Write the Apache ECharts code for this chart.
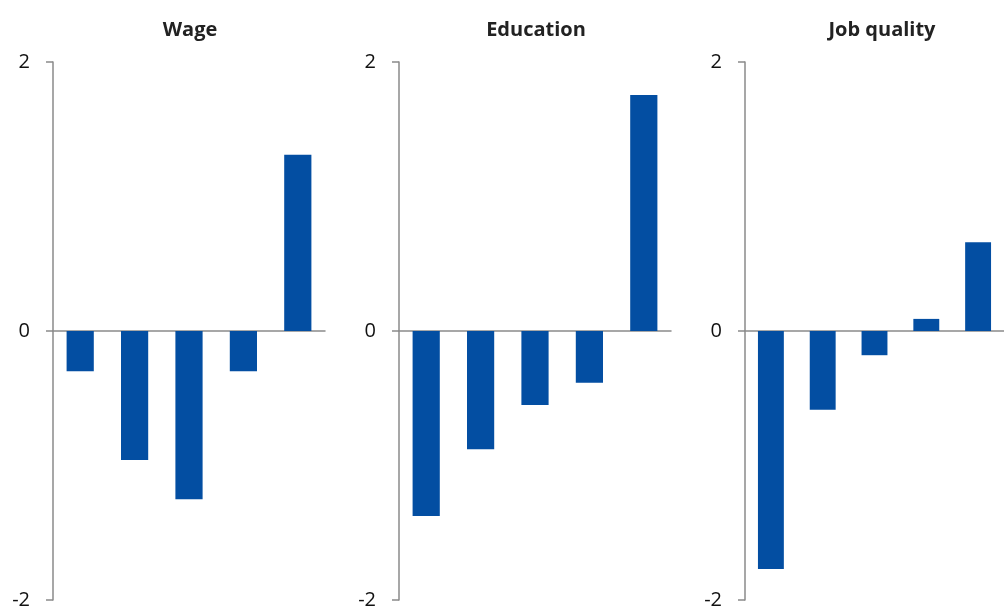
<!DOCTYPE html>
<html>
<head>
<meta charset="utf-8">
<script src="https://cdn.jsdelivr.net/npm/echarts@6/dist/echarts.min.js"></script>
<style>html,body{margin:0;padding:0;background:#fff}#c{width:1004px;height:610px}</style>
</head>
<body>
<div id="c"></div>
<script>
var panelTitles = ['Wage', 'Education', 'Job quality'];
var categories = ['1', '2', '3', '4', '5'];
var wageValues = [-0.30, -0.96, -1.25, -0.30, 1.31];
var educationValues = [-1.375, -0.88, -0.55, -0.385, 1.755];
var jobQualityValues = [-1.77, -0.585, -0.18, 0.09, 0.66];
var yTicks = [-2, 0, 2];

var seriesData = [wageValues, educationValues, jobQualityValues];
var lefts = [53, 399, 745];
var chart = echarts.init(document.getElementById('c'));
var font = '"Source Sans Pro","Open Sans","Noto Sans",sans-serif';
var grids = [], xAxes = [], yAxes = [], series = [], titles = [];
for (var i = 0; i < 3; i++) {
  grids.push({left: lefts[i], top: 62, width: 272, height: 540});
  titles.push({text: panelTitles[i], left: lefts[i] + 132, top: 15, textAlign: 'center',
    textStyle: {fontFamily: font, fontWeight: 'bold', fontSize: 20, color: '#222'}});
  xAxes.push({type: 'category', gridIndex: i, data: categories,
    axisLine: {onZero: true, lineStyle: {color: '#8a8a8a', width: 1.5}},
    axisTick: {show: false}, axisLabel: {show: false}});
  yAxes.push({type: 'value', gridIndex: i, min: -2, max: 2, interval: 2,
    splitLine: {show: false},
    axisLine: {show: true, lineStyle: {color: '#8a8a8a', width: 1.5}},
    axisTick: {show: true, inside: false, length: 7, lineStyle: {color: '#8a8a8a', width: 1.5}},
    axisLabel: {margin: 23, fontFamily: font, fontSize: 20, color: '#111',
      formatter: function (v) { return yTicks.indexOf(v) >= 0 ? String(v) : ''; }}});
  series.push({type: 'bar', xAxisIndex: i, yAxisIndex: i, data: seriesData[i],
    barWidth: '50%', itemStyle: {color: '#034ea2'}, animation: false});
}
chart.setOption({
  animation: false,
  title: titles,
  grid: grids,
  xAxis: xAxes,
  yAxis: yAxes,
  series: series
});
</script>
</body>
</html>
